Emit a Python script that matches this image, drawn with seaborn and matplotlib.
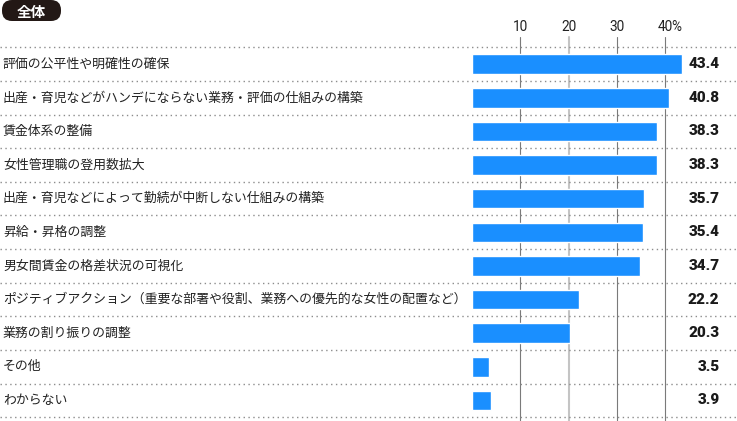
import matplotlib
matplotlib.use('Agg')
import matplotlib.pyplot as plt
from matplotlib.patches import FancyBboxPatch
from matplotlib.transforms import IdentityTransform
import seaborn as sns
import pandas as pd

# 回答項目と割合(%)
labels = [
    '評価の公平性や明確性の確保',
    '出産・育児などがハンデにならない業務・評価の仕組みの構築',
    '賃金体系の整備',
    '女性管理職の登用数拡大',
    '出産・育児などによって勤続が中断しない仕組みの構築',
    '昇給・昇格の調整',
    '男女間賃金の格差状況の可視化',
    'ポジティブアクション（重要な部署や役割、業務への優先的な女性の配置など）',
    '業務の割り振りの調整',
    'その他',
    'わからない',
]
values = [43.4, 40.8, 38.3, 38.3, 35.7, 35.4, 34.7, 22.2, 20.3, 3.5, 3.9]
ticks = [10, 20, 30, 40]
tick_labels = ['10', '20', '30', '40']

df = pd.DataFrame({'label': labels, 'value': values})

sns.set_style('white')
plt.rcParams['font.family'] = ['Noto Sans CJK JP', 'DejaVu Sans']

W, H = 737, 421
fig = plt.figure(figsize=(W / 100, H / 100), dpi=100)

# 軸の配置 (ピクセル基準)
x0, px_per = 472, 4.83
top, bottom = 47.3, 417.3
ax = fig.add_axes([x0 / W, (H - bottom) / H, (W - x0) / W, (bottom - top) / H])

sns.barplot(data=df, x='value', y='label', color='#1a8fff', orient='h',
            width=0.58, ax=ax, zorder=3, saturation=1)
ax.set_xlim(0, (W - x0) / px_per)
ax.set_ylim(len(labels) - 0.5, -0.5)
ax.set_xlabel('')
ax.set_ylabel('')
ax.set_xticks([])
ax.set_yticks([])
for s in ax.spines.values():
    s.set_visible(False)
ax.patch.set_alpha(0)

# 縦の目盛線
for t in ticks:
    if t == 20:
        ax.axvline(t, ymin=-0.02, ymax=1.027, color='#c4c4c4', lw=1.5, clip_on=False, zorder=1)
    else:
        ax.axvline(t, ymin=-0.02, ymax=1.027, color='#7a7a7a', lw=0.8, clip_on=False, zorder=1)

xt = ax.get_xaxis_transform()
for t, tl in zip(ticks, tick_labels):
    ax.text(t, 1.054, tl, transform=xt, ha='center', va='center',
            fontsize=9.8, color='#222222', family=['Roboto', 'DejaVu Sans'])
ax.annotate('%', xy=(40, 1.054), xycoords=xt, xytext=(4.6, 0), textcoords='offset points',
            ha='left', va='center', fontsize=9.8, color='#222222', family=['Roboto', 'DejaVu Sans'])

# 点線の区切り
for k in range(len(labels) + 1):
    ax.axhline(k - 0.5, xmin=-x0 / (W - x0), xmax=1, color='#8c8c8c', lw=1.0,
               ls=(0, (1, 2.5)), clip_on=False, zorder=2)

yt = ax.get_yaxis_transform()
for i, (lab, v) in enumerate(zip(labels, values)):
    ax.text((3 - x0) / (W - x0), i, lab, transform=yt, ha='left', va='center',
            fontsize=9.3, color='#222222')
    ax.text((719.5 - x0) / (W - x0), i, f'{v:.1f}', transform=yt, ha='right', va='center',
            fontsize=11, fontweight='heavy', color='#1a1a1a', family=['Roboto', 'DejaVu Sans'])

# 「全体」ラベル
badge = FancyBboxPatch((2, H - 21), 59, 21, boxstyle='round,pad=0,rounding_size=10',
                       transform=IdentityTransform(), fc='#231815', ec='none')
fig.patches.append(badge)
fig.text(31.5 / W, 1 - 11.5 / H, '全体', ha='center', va='center', color='white',
         fontsize=10.5, fontweight='bold')

fig.savefig('out.png', dpi=100)
